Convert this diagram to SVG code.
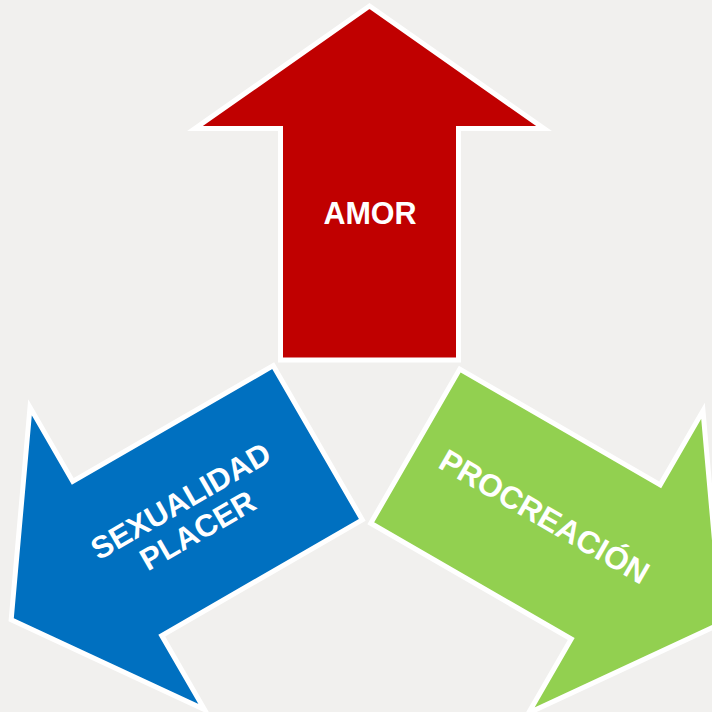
<svg xmlns="http://www.w3.org/2000/svg" xmlns:xlink="http://www.w3.org/1999/xlink" width="712" height="712" viewBox="0 0 712 712">
  <style>
    .arrow { stroke: #ffffff; stroke-width: 5; stroke-linejoin: miter; stroke-miterlimit: 10; }
    .label { font-family: "Liberation Sans", Arial, sans-serif; font-weight: bold; fill: #ffffff; text-anchor: middle; }
  </style>
  <defs>
    <path id="arrowShape" d="M369.5,6 L544,128.5 L458.5,128.5 L458.5,360 L280.5,360 L280.5,128.5 L195,128.5 Z"/>
  </defs>
  <rect x="0" y="0" width="712" height="712" fill="#f1f0ee"/>
  <g id="amor">
    <use xlink:href="#arrowShape" href="#arrowShape" class="arrow" fill="#c00000"/>
    <text class="label" x="370" y="223.5" font-size="30.5">AMOR</text>
  </g>
  <g id="sexualidad-placer">
    <use xlink:href="#arrowShape" href="#arrowShape" class="arrow" fill="#0070c0" transform="rotate(-120 367.5 416.3)"/>
    <g transform="translate(189 515.5) rotate(-30)">
      <text class="label" x="0" y="-6" font-size="31">SEXUALIDAD</text>
      <text class="label" x="0" y="28" font-size="31">PLACER</text>
    </g>
  </g>
  <g id="procreacion">
    <use xlink:href="#arrowShape" href="#arrowShape" class="arrow" fill="#92d050" transform="rotate(120 367.5 416.3)"/>
    <text class="label" font-size="31.5" transform="translate(539 526) rotate(30)" x="0" y="0">PROCREACIÓN</text>
  </g>
</svg>
